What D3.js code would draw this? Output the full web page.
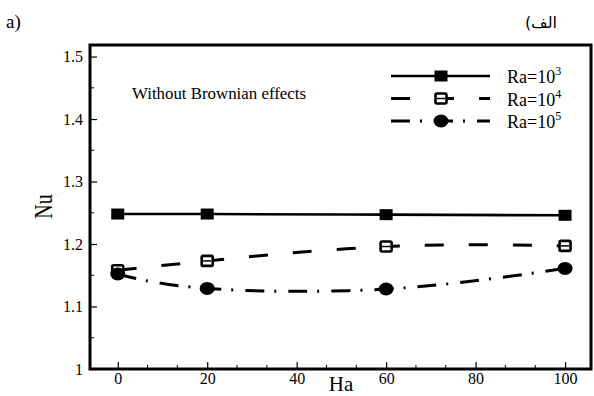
<!DOCTYPE html>
<html>
<head>
<meta charset="utf-8">
<script src="https://cdn.jsdelivr.net/npm/d3@7"></script>
</head>
<body style="margin:0; background:#fff">
<div id="chart"></div>
<script>
// data
var ha = [0, 20, 60, 100];
var nuRa3 = [1.248, 1.248, 1.247, 1.246];
var nuRa4 = [1.158, 1.173, 1.196, 1.197];
var nuRa5 = [1.152, 1.129, 1.128, 1.161];
var seriesNames = ["3", "4", "5"];
var xTicks = [0, 20, 40, 60, 80, 100];
var yTicks = [1, 1.1, 1.2, 1.3, 1.4, 1.5];

var SERIF = "'Liberation Serif'";
var W = 594, H = 396;
var margin = { top: 45, right: 3, bottom: 27, left: 90 },
  width = W - margin.left - margin.right,
  height = H - margin.top - margin.bottom;

var svg = d3.select("#chart").append("svg")
  .attr("width", W).attr("height", H)
  .attr("font-family", SERIF);

var g = svg.append("g")
  .attr("transform", "translate(" + margin.left + "," + margin.top + ")");

var x = d3.scaleLinear().domain([-6.2, 105.8]).range([0, width]);
var y = d3.scaleLinear().domain([1, 1.5185]).range([height, 0]);

// minor ticks (inward)
var xMinor = d3.range(-20 / 3, 106, 20 / 3).filter(function (v) { return v > -6 && Math.abs(Math.round(v) % 20) > 0.5; });
g.selectAll(".xminor").data(xMinor).enter().append("line")
  .attr("x1", function (d) { return x(d); }).attr("x2", function (d) { return x(d); })
  .attr("y1", height).attr("y2", height - 4)
  .attr("stroke", "#000").attr("stroke-width", 1);
var yMinor = [1.05, 1.15, 1.25, 1.35, 1.45];
g.selectAll(".yminor").data(yMinor).enter().append("line")
  .attr("x1", 0).attr("x2", 4)
  .attr("y1", function (d) { return y(d); }).attr("y2", function (d) { return y(d); })
  .attr("stroke", "#000").attr("stroke-width", 1);

// x axis
var xAxis = g.append("g")
  .attr("transform", "translate(0," + height + ")")
  .call(d3.axisBottom(x).tickValues(xTicks).tickSizeInner(-7).tickSizeOuter(0).tickPadding(4));
xAxis.attr("font-family", SERIF).attr("font-size", 16);
xAxis.select(".domain").remove();
xAxis.selectAll("text").attr("fill", "#000");
xAxis.selectAll("line").attr("stroke-width", 1.2);

// y axis
var yAxis = g.append("g")
  .call(d3.axisLeft(y).tickValues(yTicks).tickFormat(function (d) { return d === 1 ? "1" : d3.format(".1f")(d); })
    .tickSizeInner(-7).tickSizeOuter(0).tickPadding(7));
yAxis.attr("font-family", SERIF).attr("font-size", 16);
yAxis.select(".domain").remove();
yAxis.selectAll("text").attr("fill", "#000");
yAxis.selectAll("line").attr("stroke-width", 1.2);

// frame
g.append("rect")
  .attr("x", 0).attr("y", 0).attr("width", width).attr("height", height)
  .attr("fill", "none").attr("stroke", "#000").attr("stroke-width", 3);

// axis titles
svg.append("text")
  .attr("transform", "translate(52,206.5) rotate(-90) scale(1,1.3)")
  .attr("text-anchor", "middle")
  .attr("font-size", 20).text("Nu");
svg.append("text")
  .attr("x", 341).attr("y", 391)
  .attr("text-anchor", "middle")
  .attr("font-size", 21).text("Ha");

svg.append("text").attr("x", 6).attr("y", 28).attr("font-size", 19).text("a)");
svg.append("text").attr("x", 557).attr("y", 28).attr("text-anchor", "start")
  .attr("direction", "rtl")
  .attr("font-size", 16).attr("font-family", "'DejaVu Sans'").text("الف)");

g.append("text")
  .attr("x", 42).attr("y", 54)
  .attr("font-size", 16)
  .attr("textLength", 174).attr("lengthAdjust", "spacingAndGlyphs")
  .text("Without Brownian effects");

var styles = [
  { data: nuRa3, dash: null, marker: "fsquare" },
  { data: nuRa4, dash: "19,25", marker: "osquare" },
  { data: nuRa5, dash: "19,10,2,12", marker: "circle" }
];

var line = d3.line()
  .x(function (d, i) { return x(ha[i]); })
  .y(function (d) { return y(d); })
  .curve(d3.curveNatural);

function drawMarker(sel, type, cx, cy) {
  if (type === "fsquare") {
    sel.append("rect").attr("x", cx - 6.5).attr("y", cy - 5.5).attr("width", 13).attr("height", 11)
      .attr("fill", "#000");
  } else if (type === "osquare") {
    sel.append("rect").attr("x", cx - 5.5).attr("y", cy - 5).attr("width", 11).attr("height", 10)
      .attr("rx", 1.5)
      .attr("fill", "#fff").attr("stroke", "#000").attr("stroke-width", 2.6);
    sel.append("line").attr("x1", cx - 4).attr("x2", cx + 4).attr("y1", cy).attr("y2", cy)
      .attr("stroke", "#000").attr("stroke-width", 1.5);
  } else {
    sel.append("ellipse").attr("cx", cx).attr("cy", cy).attr("rx", 7.5).attr("ry", 6.5)
      .attr("fill", "#000");
  }
}

styles.forEach(function (s) {
  g.append("path")
    .attr("d", line(s.data))
    .attr("fill", "none").attr("stroke", "#000")
    .attr("stroke-width", s.dash ? 3 : 2.6)
    .attr("stroke-dasharray", s.dash);
  s.data.forEach(function (v, i) {
    drawMarker(g, s.marker, x(ha[i]), y(v));
  });
});

// legend
var legend = svg.append("g");
styles.forEach(function (s, i) {
  var ly = 76 + i * 22.5;
  legend.append("line")
    .attr("x1", 391).attr("x2", 490).attr("y1", ly).attr("y2", ly)
    .attr("stroke", "#000").attr("stroke-width", s.dash ? 3 : 2.6)
    .attr("stroke-dasharray", s.dash);
  drawMarker(legend, s.marker, 441, ly);
  var t = legend.append("text").attr("x", 507).attr("y", ly + 7).attr("font-size", 18);
  t.append("tspan").text("Ra=10");
  t.append("tspan").attr("dy", -8).attr("font-size", 12).text(seriesNames[i]);
});
</script>
</body>
</html>
